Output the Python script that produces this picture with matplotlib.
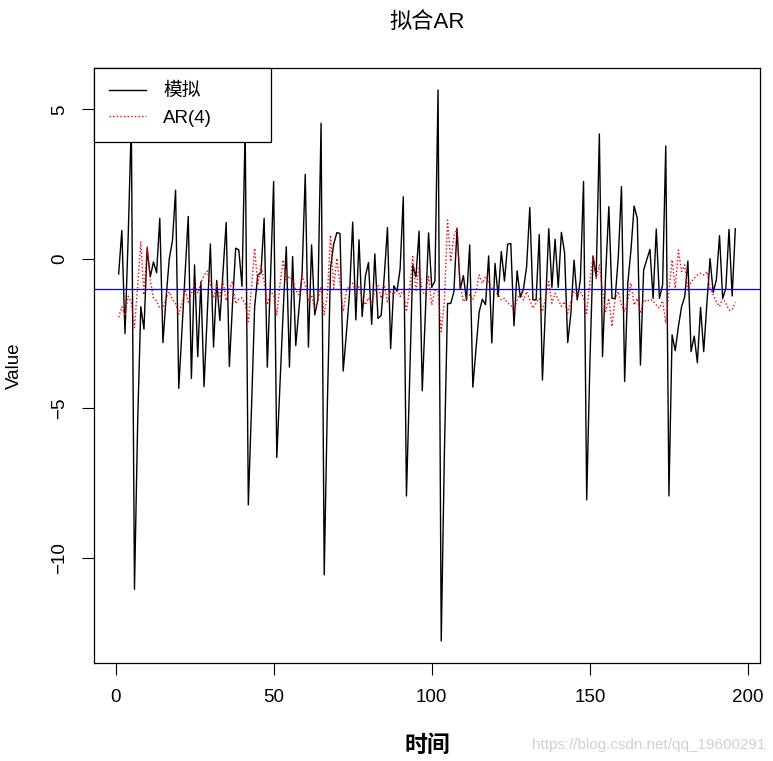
import numpy as np
import matplotlib
matplotlib.use("Agg")
import matplotlib.pyplot as plt

plt.rcParams['font.family'] = ['Liberation Sans', 'Noto Sans CJK SC', 'DejaVu Sans']

# 模拟序列 (t = 1..196)
sim = [
    -0.5, 0.95, -2.5, 0.7, 4.6, -11.05, -5.5, -1.6, -2.35, 0.35,
    -0.6, -0.1, -0.46, 1.36, -2.8, -1.3, 0.0, 0.6, 2.3, -4.33,
    -2.4, -0.48, 1.42, -4.0, -0.2, -3.27, -0.76, -4.27, -1.9, 0.5,
    -2.95, -0.72, -2.06, -0.4, 1.22, -3.6, -1.5, 0.36, 0.3, -0.92,
    4.4, -8.23, -5.0, -1.6, -0.53, -0.48, 1.36, -3.62, -0.7, 2.59,
    -6.64, -4.2, -1.8, 0.41, -3.62, 0.08, -2.9, -1.7, -0.48, 2.83,
    -2.95, 0.47, -1.87, -1.37, 4.54, -10.57, -4.8, -0.3, 0.5, 0.88,
    0.85, -3.75, -2.5, -1.15, 1.23, -2.04, 0.64, -1.93, -0.59, -0.12,
    -2.19, 0.17, -1.99, -1.89, -0.56, 1.05, -3.0, -0.9, -1.08, -0.34,
    2.08, -7.93, -4.0, -0.2, -0.6, 0.93, -4.41, -1.8, 0.87, -0.95,
    -0.74, 5.65, -12.78, -6.5, -1.49, -1.49, -1.1, 1.02, -1.02, -0.56,
    -1.38, 0.47, -4.29, -3.0, -1.77, -1.35, -1.53, 0.1, -2.81, -0.15,
    -1.26, 0.25, -0.74, 0.49, 0.52, -2.24, -0.4, -1.28, -1.01, -0.26,
    1.72, -1.37, -1.37, 0.82, -4.05, -1.5, 1.01, -0.95, 0.66, -0.95,
    0.89, 0.21, -2.8, -1.82, -0.04, -1.37, -0.7, 2.59, -8.06, -3.5,
    0.1, -0.6, 4.18, -3.27, -0.5, 1.75, -1.32, -1.32, 0.08, 2.42,
    -4.1, -0.8, 0.3, 1.77, 1.36, -3.55, -0.37, -0.03, 0.32, -1.32,
    1.0, -1.32, -0.87, 3.78, -7.93, -2.54, -3.07, -2.26, -1.6, -1.26,
    -0.07, -3.1, -2.58, -3.47, -1.62, -3.1, -1.5, 0.01, -1.12, -0.7,
    0.78, -1.32, -0.98, 0.99, -1.24, 1.01,
]

# AR(4) 拟合值
ar4 = [
    -1.95, -1.6, -1.9, -1.25, -1.45, -2.3, -0.9, 0.58, -1.2, 0.4,
    -0.7, -1.3, -1.4, -1.65, -1.65, -1.3, -1.1, -1.35, -1.5, -1.85,
    -1.5, -1.0, -1.45, -1.15, -0.9, -1.15, -0.8, -0.55, -0.4, -0.8,
    -1.3, -0.85, -1.25, -0.75, -1.4, -1.0, -0.75, -1.5, -1.35, -1.3,
    -1.5, -2.1, -0.98, 0.36, -0.87, -0.2, -0.76, -1.54, -1.09, -1.2,
    -1.87, -0.87, -0.03, -0.76, -0.59, -0.7, -1.04, -1.2, -0.59, -0.87,
    -1.43, -1.2, -1.7, -1.37, -0.93, -1.87, -1.2, 0.8, -0.98, 0.02,
    -0.87, -1.76, -1.09, -0.87, -0.81, -1.1, -0.93, -1.32, -1.54, -1.3,
    -1.48, -1.09, -0.87, -1.32, -0.87, -1.43, -1.09, -1.2, -0.98, -1.26,
    -1.0, -1.76, -1.0, 0.08, -1.09, -0.26, -1.09, -1.2, -0.59, -1.54,
    -1.04, -1.09, -2.43, -1.43, 1.3, -0.09, 0.75, 1.03, -0.87, -1.43,
    -1.3, -1.2, -1.37, -1.09, -0.54, -0.81, -0.59, -0.76, -0.98, -1.09,
    -1.2, -1.37, -1.32, -1.48, -1.54, -1.76, -1.37, -1.15, -1.37, -1.09,
    -1.37, -1.65, -1.48, -1.32, -1.76, -1.3, -0.76, -1.48, -1.15, -1.37,
    -1.59, -1.43, -1.82, -1.4, -1.09, -1.2, -1.09, -1.3, -1.82, -0.76,
    0.08, -0.65, -0.2, -1.09, -1.76, -1.32, -2.26, -1.32, -1.09, -1.54,
    -1.76, -1.43, -0.81, -1.54, -1.32, -1.82, -1.37, -1.43, -1.35, -1.4,
    -1.54, -1.65, -1.4, -2.15, -1.09, -0.03, -0.98, 0.3, -0.42, -0.2,
    -1.04, -0.76, -0.65, -0.54, -0.48, -0.54, -0.42, -0.98, -1.2, -1.43,
    -1.59, -1.32, -1.48, -1.71, -1.7, -1.45,
]

mean_level = -1.0
x_ticks = [0, 50, 100, 150, 200]
y_ticks = [-10, -5, 0, 5]

t = np.arange(1, len(sim) + 1)

fig = plt.figure(figsize=(7.73, 7.61), dpi=100)
ax = fig.add_axes([94 / 773, 1 - 663 / 761, 666 / 773, 595 / 761])

ax.plot(t, sim, color='black', lw=1.0)
ax.plot(t, ar4, color='red', lw=1.0, linestyle=(0, (1, 1.6)))
ax.axhline(mean_level, color='#0000ff', lw=0.9)

# R 风格的坐标范围 (4% 扩展)
lo = min(min(sim), min(ar4))
hi = max(max(sim), max(ar4))
pad = 0.04 * (hi - lo)
ax.set_ylim(lo - pad, hi + pad)
ax.set_xlim(1 - 0.04 * (len(t) - 1), len(t) + 0.04 * (len(t) - 1))

ax.set_xticks(x_ticks)
ax.set_yticks(y_ticks)
ax.tick_params(direction='out', length=8.5, width=0.8, labelsize=13.5, pad=10)
for lab in ax.get_yticklabels():
    lab.set_rotation(90)
    lab.set_va('center')
for s in ax.spines.values():
    s.set_linewidth(0.9)

ax.set_title('拟合AR', fontsize=16, y=1.077, va='center', pad=0)
ax.set_xlabel('时间', fontsize=16.5, fontweight='bold', va='center')
ax.xaxis.set_label_coords(0.5, -0.138)
ax.set_ylabel('Value', fontsize=13.5, va='center')
ax.yaxis.set_label_coords(-0.12, 0.5)

leg = ax.legend(['模拟', 'AR(4)'], loc='upper left',
                bbox_to_anchor=(0, 1 - 74 / 595, 177 / 666, 74 / 595),
                mode='expand', fancybox=False, framealpha=1, edgecolor='black',
                fontsize=13.5, handlelength=1.95, handletextpad=0.95,
                borderpad=0.8, labelspacing=0.5, borderaxespad=0)
leg.get_frame().set_linewidth(0.9)

fig.text(0.99, 0.021, 'https://blog.csdn.net/qq_19600291', color='#d0d0d0',
         fontsize=11, ha='right', va='center')

fig.savefig('out.png', dpi=100)
